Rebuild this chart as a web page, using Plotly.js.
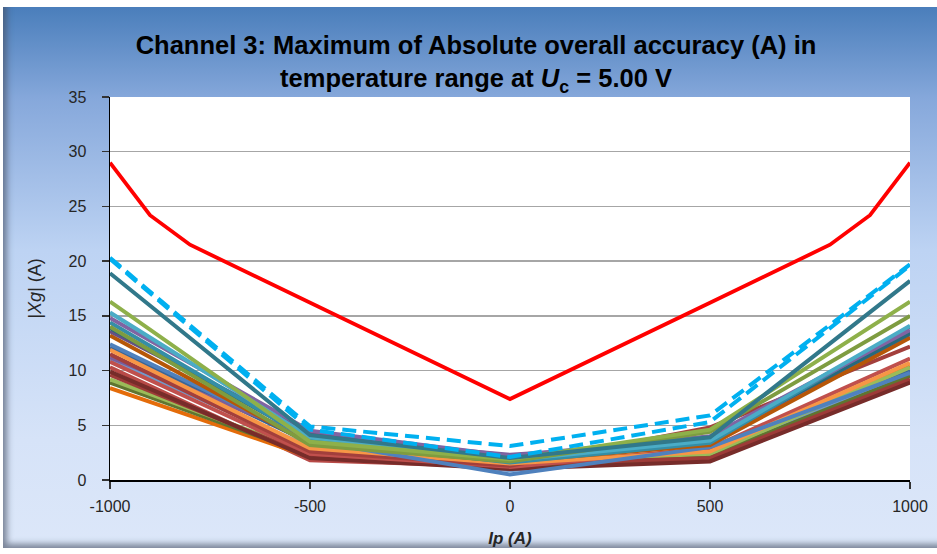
<!DOCTYPE html>
<html>
<head>
<meta charset="utf-8">
<script src="https://cdn.plot.ly/plotly-3.0.1.min.js"></script>
<style>
  html, body { margin: 0; padding: 0; background: #ffffff; }
  #frame {
    position: absolute; left: 3px; top: 7px; width: 934px; height: 541px;
    background: linear-gradient(to bottom, #4A7EBB 0%, #86A8DB 17%, #BDD3F3 45%, #D6E3F8 80%, #DCE7F9 100%);
    box-shadow: inset 7px -7px 6px -3px rgba(70,80,100,0.65);
  }
  #chart { position: absolute; left: 0; top: 0; width: 937px; height: 554px; }
</style>
</head>
<body>
<div id="frame"></div>
<div id="chart"></div>
<script>
// x positions (Ip, A)
const xMain = [-1000, -500, 0, 500, 1000];
const xRed  = [-1000, -900, -800, -500, 0, 500, 800, 900, 1000];

// Worst-case envelope (red)
const redVals = [29.0, 24.2, 21.5, 16.2, 7.4, 16.2, 21.5, 24.2, 29.0];

// Dashed light-blue series
const dashA = [20.3, 4.9, 3.1, 5.9, 19.7];
const dashB = [20.2, 4.6, 2.1, 5.3, 19.6];

// Individual temperature series (values at -1000, -500, 0, 500, 1000)
const s01 = [18.9, 4.1, 2.0, 3.9, 18.2];
const s02 = [16.3, 3.5, 1.9, 4.6, 16.3];
const s03 = [14.0, 3.2, 1.7, 4.4, 15.0];
const s04 = [15.3, 3.9, 1.8, 3.6, 14.1];
const s05 = [14.8, 4.5, 2.2, 4.0, 13.7];
const s06 = [14.4, 3.7, 1.6, 3.4, 14.0];
const s07 = [13.9, 3.8, 1.9, 3.7, 13.4];
const s08 = [13.6, 4.3, 2.0, 3.9, 13.5];
const s09 = [13.2, 3.3, 1.7, 3.2, 13.0];
const s10 = [12.4, 3.6, 0.5, 3.0, 9.8];
const s11 = [11.9, 2.9, 1.5, 2.6, 10.7];
const s12 = [11.5, 2.6, 1.3, 4.8, 12.2];
const s13 = [11.2, 3.9, 2.3, 3.5, 13.1];
const s14 = [10.8, 2.4, 1.2, 2.9, 11.1];
const s15 = [9.9, 2.0, 1.0, 1.7, 8.9];
const s16 = [9.6, 2.2, 1.4, 2.0, 9.2];
const s17 = [9.2, 2.5, 1.6, 2.4, 10.3];
const s18 = [8.9, 2.3, 1.1, 2.2, 9.5];
const s19 = [8.4, 2.1, 1.5, 2.7, 10.4];
const s20 = [12.1, 3.4, 1.0, 2.8, 10.0];
const s21 = [11.0, 3.0, 0.9, 2.5, 9.6];
const s22 = [10.3, 1.8, 1.2, 1.9, 9.0];

const seriesList = [s22, s21, s20, s19, s18, s17, s16, s15, s14, s13, s12, s11, s10, s09, s08, s07, s06, s05, s04, s03, s02, s01];
const seriesColors = ['#B84A47', '#729ACA', '#3A6596', '#E46C0A', '#5F7530', '#9BBB59', '#9D3B38', '#772C2A',
                      '#C0504D', '#7A5D9B', '#A33F3C', '#F79646', '#4F81BD', '#B65708', '#664F82', '#276A7C',
                      '#358EA6', '#8064A2', '#4BACC6', '#7E9C40', '#8EB04A', '#31788A'];

const yTicks = [0, 5, 10, 15, 20, 25, 30, 35];
const xTicks = [-1000, -500, 0, 500, 1000];

const traces = [];
seriesList.forEach((s, i) => {
  traces.push({ x: xMain, y: s, type: 'scatter', mode: 'lines',
    line: { color: seriesColors[i], width: 4 }, hoverinfo: 'skip' });
});
traces.push({ x: xMain, y: dashB, type: 'scatter', mode: 'lines',
  line: { color: '#00B0F0', width: 4, dash: '14px,7px' } });
traces.push({ x: xMain, y: dashA, type: 'scatter', mode: 'lines',
  line: { color: '#00B0F0', width: 4, dash: '14px,7px' } });
traces.push({ x: xRed, y: redVals, type: 'scatter', mode: 'lines',
  line: { color: '#FF0000', width: 3.8 } });

const layout = {
  width: 937, height: 554,
  margin: { l: 110, r: 27, t: 97, b: 74 },
  paper_bgcolor: 'rgba(0,0,0,0)',
  plot_bgcolor: '#FFFFFF',
  showlegend: false,
  font: { family: 'Liberation Sans, Arial, sans-serif', color: '#262626' },
  title: {
    text: '<b>Channel 3: Maximum of Absolute overall accuracy (A) in<br>temperature range at <i>U</i><sub>c</sub> = 5.00 V</b>',
    font: { size: 25.5, color: '#000000', family: 'Liberation Sans, Arial, sans-serif' },
    x: 0.508, xref: 'container', xanchor: 'center', y: 0.902, yref: 'container', yanchor: 'middle'
  },
  xaxis: {
    range: [-1000, 1000], tickvals: xTicks, ticktext: xTicks.map(String),
    showgrid: false, zeroline: false,
    showline: true, linecolor: '#000000', linewidth: 1.5,
    ticks: 'outside', ticklen: 7, tickcolor: '#333333', tickwidth: 1.5,
    ticklabelstandoff: 4,
    tickfont: { size: 16, color: '#262626' },
    title: { text: '<b><i>Ip (A)</i></b>', font: { size: 17, color: '#262626' }, standoff: 18 }
  },
  yaxis: {
    range: [0, 35], tickvals: yTicks, ticktext: yTicks.map(String),
    showgrid: true, gridcolor: '#A6A6A6', gridwidth: 1.5, zeroline: false,
    showline: true, linecolor: '#000000', linewidth: 1.5,
    ticks: 'outside', ticklen: 7, tickcolor: '#333333', tickwidth: 1.5,
    ticklabelstandoff: 12,
    tickfont: { size: 16, color: '#262626' },
    title: { text: '<i>|Xg|</i> (A)', font: { size: 18, color: '#262626' }, standoff: 22 }
  }
};

Plotly.newPlot('chart', traces, layout, { displayModeBar: false, staticPlot: true });
</script>
</body>
</html>
